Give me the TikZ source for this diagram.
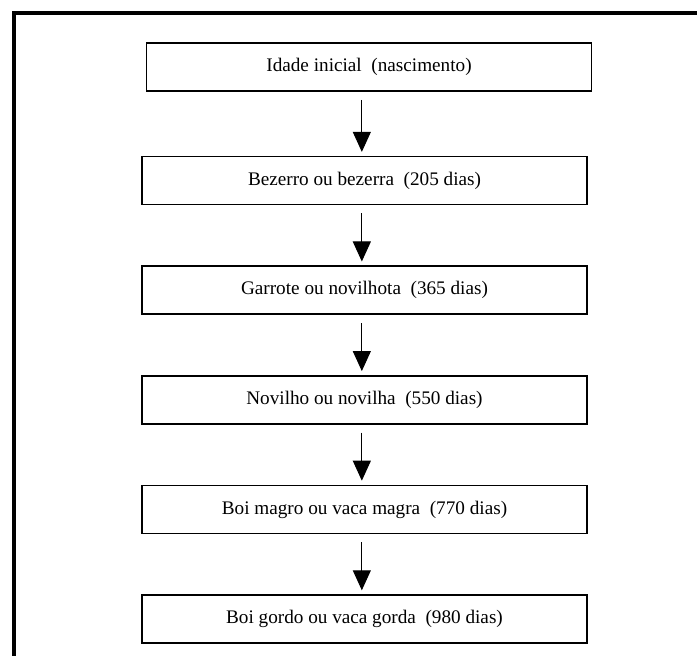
\documentclass[tikz,border=0pt]{standalone}
\usepackage{fontspec}
\setmainfont{Liberation Serif}
\usepackage{tikz}
\usetikzlibrary{arrows.meta,calc,chains,positioning}
\tikzset{every picture/.style={
  >={Triangle[width=13.5pt,length=15pt]}   % Big filled arrow heads.
  }
}

\begin{document}
\begin{tikzpicture}[
    x=0.75pt,y=-0.75pt,
    start chain=1 going below,
    stage/.style={
      rectangle,
      draw,
      line width=1.2pt,
      minimum width=333.75pt,
      minimum height=36pt,
      inner sep=2pt,
      font=\fontsize{14.4pt}{16pt}\selectfont,
      text centered
    },
    link/.style={
      ->,
      line width=0.75pt
    }]

    \useasboundingbox (0,0) rectangle (697,656);

    % Draw the frame round the chart.
    \draw[line width=3.4pt] (14,656) -- (14,13) -- (697,13);

    % Draw the first stage.
    \node[stage] (b1) at (369,67) {Idade inicial~ (nascimento)};

    % Draw the chain of stages below it.
    \begin{scope}[
      node distance=45pt,
      every on chain/.style={stage}
      ]
      \node[on chain=1] (b2) at (364.5,180.7) {Bezerro ou bezerra~ (205 dias)};
      \node[on chain=1] (b3) {Garrote ou novilhota~ (365 dias)};
      \node[on chain=1] (b4) {Novilho ou novilha~ (550 dias)};
      \node[on chain=1] (b5) {Boi magro ou vaca magra~ (770 dias)};
      \node[on chain=1] (b6) {Boi gordo ou vaca gorda~ (980 dias)};
    \end{scope}

    % Link each stage to the next one.
    \foreach \a/\b in {b1/b2,b2/b3,b3/b4,b4/b5,b5/b6} {
      \draw[link] ([xshift=-2pt,yshift=-6pt]\b.north |- \a.south)
        -- ([xshift=-2pt,yshift=3pt]\b.north);
    }
  \end{tikzpicture}
\end{document}
